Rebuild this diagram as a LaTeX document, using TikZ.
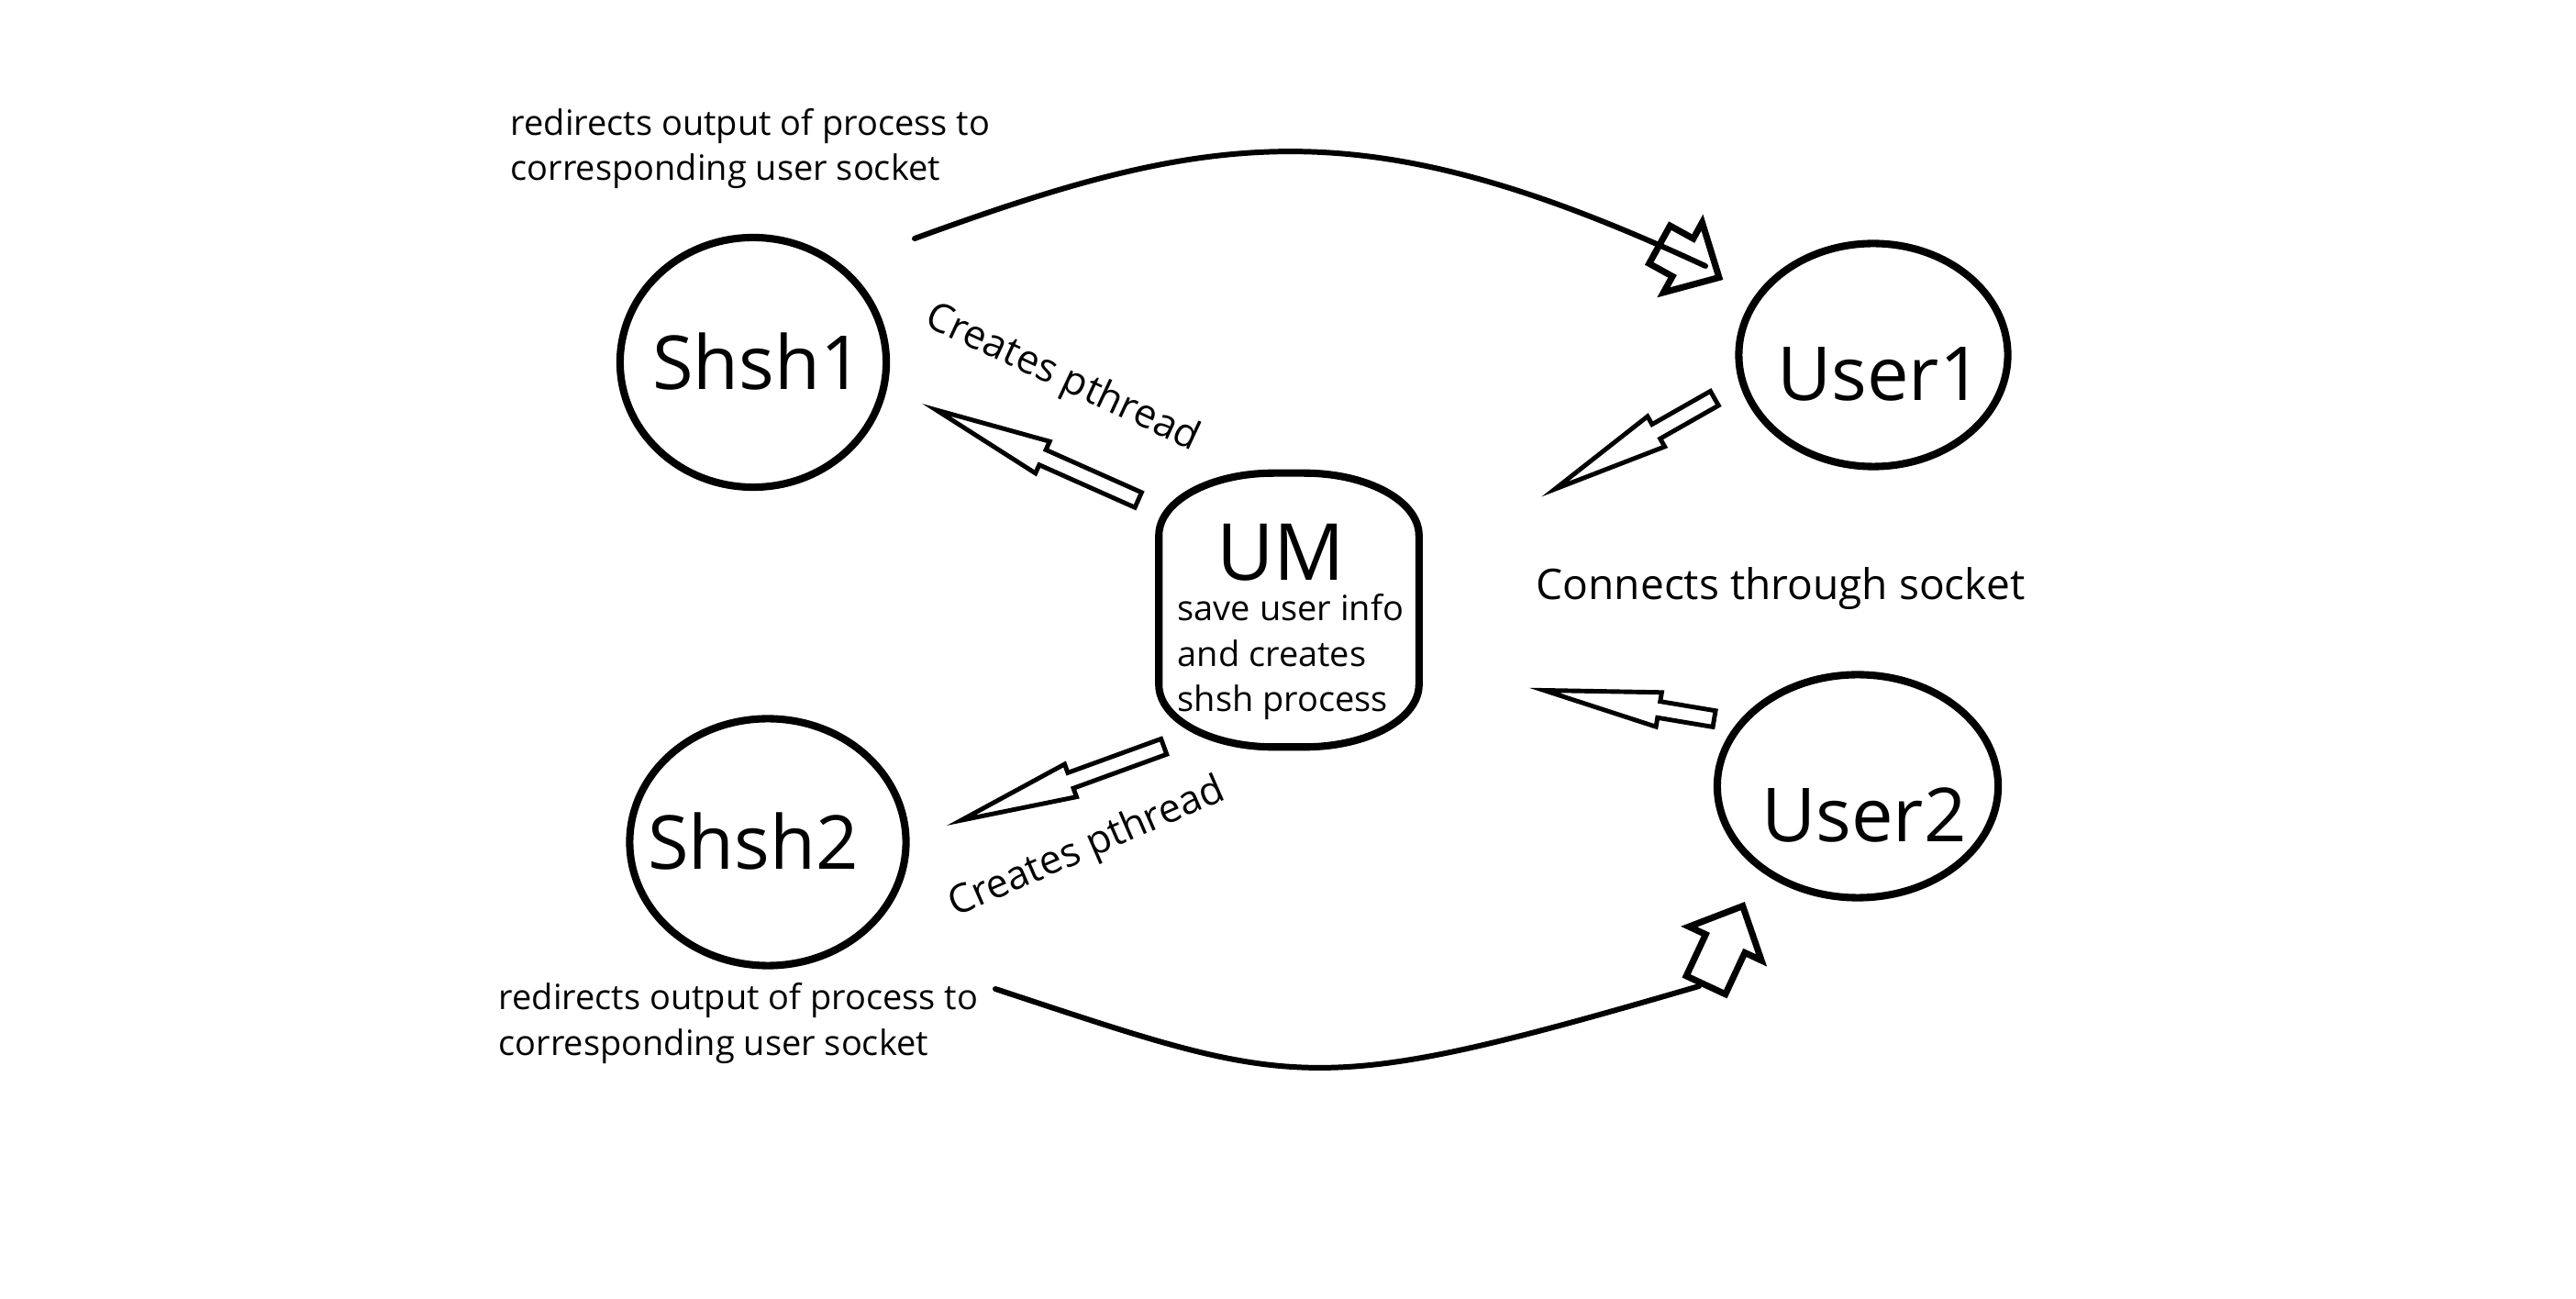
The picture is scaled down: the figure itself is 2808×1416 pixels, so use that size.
\documentclass[tikz,border=0pt]{standalone}
\usepackage{fontspec}
\setmainfont{Open Sans}
\usetikzlibrary{shapes.geometric,shapes.arrows}

\begin{document}
\begin{tikzpicture}[x=0.01cm, y=-0.01cm,
	proc/.style={draw, ellipse, line width=2.3pt, inner sep=0pt},
	big/.style={font=\fontsize{23.1}{28}\selectfont, inner sep=0pt, anchor=base},
	note/.style={font=\fontsize{10.8}{14.2}\selectfont, inner sep=0pt, align=left, anchor=base west},
	side/.style={font=\fontsize{12.3}{15}\selectfont, inner sep=0pt},
	blockarrow/.style={draw, single arrow, line width=1.4pt, inner xsep=0pt, inner ysep=0.065cm,
		single arrow head extend=0.1cm, single arrow tip angle=17, sloped, allow upside down, pos=0, anchor=tail},
	tiparrow/.style={draw, single arrow, line width=2pt, inner xsep=0pt, inner ysep=0.2cm,
		single arrow head extend=0.2cm, single arrow tip angle=88, sloped, allow upside down, pos=0, anchor=tail},
	link/.style={line width=1.7pt, line cap=round}]
	\useasboundingbox (0,0) rectangle (2808,1416);

	% processes and users
	\node[proc, minimum width=2.90cm, minimum height=2.72cm] (shsh1) at (821,395) {};
	\node[proc, minimum width=3.01cm, minimum height=2.69cm] (shsh2) at (837,918) {};
	\node[proc, minimum width=2.93cm, minimum height=2.43cm] (user1) at (2042,387) {};
	\node[proc, minimum width=3.06cm, minimum height=2.43cm] (user2) at (2025,857) {};
	\node[big] (shsh1 name) at (826,425) {Shsh1};
	\node[big] (shsh2 name) at (821,948) {Shsh2};
	\node[big] (user1 name) at (2049,437) {User1};
	\node[big] (user2 name) at (2032,918) {User2};

	% user manager
	\node[minimum width=2.82cm, minimum height=2.97cm, inner sep=0pt] (um) at (1405,665) {};
	\draw[line width=2.3pt] ([xshift=-1.25cm]um.north east) arc[start angle=90, end angle=0, x radius=1.25cm, y radius=0.68cm]
		-- ([yshift=0.68cm]um.south east) arc[start angle=0, end angle=-90, x radius=1.25cm, y radius=0.68cm]
		-- ([xshift=1.25cm]um.south west) arc[start angle=-90, end angle=-180, x radius=1.25cm, y radius=0.68cm]
		-- ([yshift=-0.68cm]um.north west) arc[start angle=180, end angle=90, x radius=1.25cm, y radius=0.68cm] -- cycle;
	\node[big, font=\fontsize{24.4}{28}\selectfont] (um name) at (1396,633) {UM};
	\node[note] (um info) at (1283,776) {save user info\\and creates\\shsh process};

	% block arrows
	\coordinate (um out1) at (1243,546);  \coordinate (shsh1 in) at (1023,448);
	\coordinate (um out2) at (1271,813);  \coordinate (shsh2 in) at (1051,893);
	\coordinate (user1 out) at (1871,433); \coordinate (um in1) at (1697,532);
	\coordinate (user2 out) at (1871,784); \coordinate (um in2) at (1686,753);
	\path (um out1) -- node[blockarrow, minimum height=2.41cm] (a1) {} (shsh1 in);
	\path (um out2) -- node[blockarrow, minimum height=2.35cm] (a2) {} (shsh2 in);
	\path (user1 out) -- node[blockarrow, minimum height=2.00cm] (a3) {} (um in1);
	\path (user2 out) -- node[blockarrow, minimum height=1.88cm] (a4) {} (um in2);

	\node[side, rotate=-25] (create1) at (1158,413) {Creates pthread};
	\node[side, rotate=23.5] (create2) at (1185,925) {Creates pthread};
	\node[side, font=\fontsize{13.1}{16}\selectfont, anchor=base west] (sock) at (1674,654) {Connects through socket};

	% output redirection
	\coordinate (out1) at (997,260);  \coordinate (out1 end) at (1859,290);
	\coordinate (out2) at (1085,1078); \coordinate (out2 end) at (1852,1075);
	\draw[link] (out1) .. controls (1323,141) and (1485,116) .. (out1 end);
	\draw[link] (out2) .. controls (1416,1187) and (1426,1199) .. (out2 end);
	\coordinate (f tail) at (1806,265); \coordinate (f tip) at (1873,302);
	\coordinate (e tail) at (1858,1077); \coordinate (e tip) at (1900,987);
	\path (f tail) -- node[tiparrow, minimum height=0.74cm] (a5) {} (f tip);
	\path (e tail) -- node[tiparrow, minimum height=0.95cm] (a6) {} (e tip);

	\node[note] (redir1) at (556,197) {redirects output of process to\\corresponding user socket};
	\node[note] (redir2) at (543,1150) {redirects output of process to\\corresponding user socket};
\end{tikzpicture}
\end{document}
